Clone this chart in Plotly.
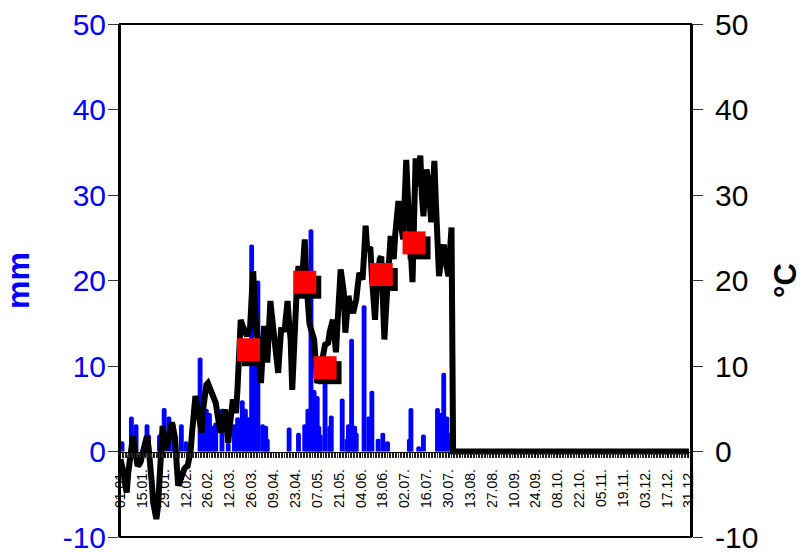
import pandas as pd
import plotly.graph_objects as go

# Daily mean air temperature (°C) from 01.01 onwards; the logger reads 0 after 01.08.
temp_start = "2023-01-01"
temp_c = [
    -0.9, -1.5, -2.5, -3.8, -4.8, -2.5, -1.0, 0.5, 1.8, 0.5,
    -1.0, -1.7, -1.5, -1.2, -0.3, 0.5, 1.2, 1.8, 0.5, -1.0,
    -3.5, -6.0, -7.2, -7.9, -6.5, -4.0, 0.0, 3.0, 1.5, 0.2,
    0.8, 1.5, 2.5, 3.4, 2.5, 1.5, -1.5, -4.0, -3.5, -2.8,
    -2.1, -2.0, -1.8, -1.7, -0.8, 0.2, 2.5, 4.5, 6.5, 5.5,
    4.0, 3.0, 2.2, 5.0, 7.6, 7.8, 8.0, 7.5, 7.2, 6.9,
    6.3, 5.7, 4.5, 3.2, 2.2, 3.5, 4.2, 4.9, 3.0, 1.0,
    3.0, 4.8, 6.1, 5.3, 4.5, 7.5, 10.8, 15.4, 14.8, 14.3,
    13.8, 13.5, 14.0, 14.5, 18.0, 21.1, 17.0, 14.8, 13.0, 11.1,
    8.0, 11.5, 14.7, 12.5, 10.4, 14.0, 17.6, 15.8, 13.9, 11.5,
    10.0, 9.2, 12.0, 14.5, 14.3, 14.0, 15.8, 17.6, 15.0, 13.0,
    7.2, 12.0, 17.0, 19.5, 21.7, 20.3, 19.0, 22.0, 24.8, 20.0,
    15.8, 15.0, 14.3, 13.7, 13.1, 10.5, 8.0, 8.5, 9.0, 10.5,
    12.3, 12.5, 12.6, 12.7, 14.0, 14.7, 15.4, 13.5, 11.6, 15.0,
    18.2, 21.3, 20.0, 18.6, 13.9, 16.0, 18.2, 17.2, 16.5, 16.2,
    17.0, 17.8, 19.5, 20.9, 20.5, 20.1, 23.0, 26.4, 23.6, 23.7,
    23.9, 20.5, 17.5, 15.4, 19.0, 22.1, 22.5, 22.8, 18.0, 13.1,
    16.5, 19.4, 22.0, 25.2, 24.0, 22.5, 25.5, 29.1, 29.3, 27.5,
    26.0, 24.8, 29.5, 34.1, 30.0, 25.6, 22.5, 19.8, 27.0, 34.3,
    31.0, 33.0, 34.6, 30.0, 27.5, 30.5, 33.0, 31.7, 29.0, 26.8,
    30.5, 34.0, 29.0, 24.5, 20.5, 22.0, 23.2, 24.2, 22.5, 21.0,
    20.5, 23.5, 26.2,
] + [0.0] * 152

# Daily precipitation (mm), rainy days only.
rain_dates = [
    "2023-01-02", "2023-01-08", "2023-01-11", "2023-01-18", "2023-01-19",
    "2023-01-26", "2023-01-29", "2023-02-01", "2023-02-04", "2023-02-09",
    "2023-02-12", "2023-02-21", "2023-02-23", "2023-02-25", "2023-02-27",
    "2023-03-01", "2023-03-03", "2023-03-07", "2023-03-11", "2023-03-15",
    "2023-03-17", "2023-03-20", "2023-03-22", "2023-03-24", "2023-03-26",
    "2023-03-28", "2023-03-30", "2023-04-02", "2023-04-04", "2023-04-05",
    "2023-04-19", "2023-04-25", "2023-04-29", "2023-05-01", "2023-05-03",
    "2023-05-05", "2023-05-07", "2023-05-08", "2023-05-09", "2023-05-12",
    "2023-05-15", "2023-05-16", "2023-05-23", "2023-05-26", "2023-05-27",
    "2023-05-29", "2023-05-31", "2023-06-01", "2023-06-06", "2023-06-09",
    "2023-06-11", "2023-06-15", "2023-06-18", "2023-06-21", "2023-07-05",
    "2023-07-06", "2023-07-11", "2023-07-14", "2023-07-23", "2023-07-25",
    "2023-07-27", "2023-07-29", "2023-07-31",
]
rain_mm = [
    1.2, 4.1, 3.2, 3.2, 2.0,
    2.0, 5.1, 4.1, 3.2, 3.2,
    1.2, 11.0, 6.0, 5.0, 4.5,
    3.0, 3.4, 5.0, 1.0, 3.2,
    4.0, 6.0, 5.0, 4.0, 24.2,
    12.0, 20.0, 3.2, 3.0, 1.5,
    2.8, 2.2, 3.2, 5.0, 26.0,
    7.2, 6.5, 3.0, 2.0, 10.0,
    3.0, 4.2, 6.2, 1.5, 3.2,
    13.2, 3.0, 2.2, 17.1, 4.1,
    7.1, 1.5, 2.2, 1.2, 1.5,
    5.1, 0.6, 2.0, 5.1, 4.5,
    9.2, 4.1, 2.2,
]

# Period means of temperature (°C).
mean_dates = ["2023-03-24", "2023-04-29", "2023-05-12", "2023-06-17", "2023-07-08"]
mean_c = [11.9, 19.8, 9.8, 20.7, 24.4]

# Axis settings
y_range = [-10, 50]
y_ticks = [-10, 0, 10, 20, 30, 40, 50]
y_ticktext = ["-10", "0", "10", "20", "30", "40", "50"]
x_range = ["2022-12-31 17:00", "2024-01-01 08:00"]
DAY_MS = 86400000

temp_dates = pd.date_range(temp_start, periods=len(temp_c), freq="D")

# Drop shadow of the mean markers: a few pixels right and down.
plot_w_px, plot_h_px = 571, 513
span_days = (pd.Timestamp(x_range[1]) - pd.Timestamp(x_range[0])) / pd.Timedelta(days=1)
shadow_dx = pd.Timedelta(days=5 * span_days / plot_w_px)
shadow_dy = -5 * (y_range[1] - y_range[0]) / plot_h_px
shadow_dates = [pd.Timestamp(d) + shadow_dx for d in mean_dates]
shadow_c = [v + shadow_dy for v in mean_c]

FONT = "Liberation Sans, Arial, sans-serif"
BLUE = "#0000ff"

fig = go.Figure()
fig.add_trace(go.Bar(
    x=rain_dates, y=rain_mm, yaxis="y",
    marker=dict(color=BLUE, line=dict(width=0)),
    width=3.1 * DAY_MS, name="mm",
))
fig.add_trace(go.Scatter(
    x=temp_dates, y=temp_c, yaxis="y2", mode="lines",
    line=dict(color="black", width=6), name="°C",
))
fig.add_trace(go.Scatter(
    x=shadow_dates, y=shadow_c, yaxis="y2", mode="markers",
    marker=dict(symbol="square", size=23, color="black", line=dict(width=0)),
))
fig.add_trace(go.Scatter(
    x=mean_dates, y=mean_c, yaxis="y2", mode="markers",
    marker=dict(symbol="square", size=23, color="#ff0000", line=dict(width=0)),
))

zero_pos = (0 - y_range[0]) / (y_range[1] - y_range[0])

fig.update_layout(
    width=803, height=552,
    margin=dict(l=120, r=112, t=24, b=15, autoexpand=False),
    paper_bgcolor="white", plot_bgcolor="white",
    showlegend=False,
    barcornerradius=2,
    font=dict(family=FONT, color="black"),
    xaxis=dict(
        type="date", range=x_range, anchor="free", position=zero_pos,
        tick0="2023-01-01", dtick=14 * DAY_MS, tickformat="%d.%m.",
        tickangle=-90, tickfont=dict(size=14, color="black"),
        ticks="outside", ticklen=5, tickwidth=1, tickcolor="black",
        ticklabelstandoff=6, automargin=False,
        minor=dict(dtick=DAY_MS, ticks="outside", ticklen=5, tickwidth=1, tickcolor="#222"),
        showline=True, linecolor="black", linewidth=1,
        showgrid=False, zeroline=False,
    ),
    xaxis2=dict(
        type="date", range=x_range, overlaying="x", anchor="free", position=zero_pos,
        tick0="2023-01-01", dtick=14 * DAY_MS, showticklabels=False, automargin=False,
        ticks="inside", ticklen=5, tickwidth=1, tickcolor="black",
        minor=dict(dtick=DAY_MS, ticks="inside", ticklen=5, tickwidth=1, tickcolor="#222"),
        showgrid=False, zeroline=False, showline=False,
    ),
    yaxis=dict(
        range=y_range, tickvals=y_ticks, ticktext=y_ticktext, side="left",
        tickfont=dict(size=30, color=BLUE), ticklabeloverflow="allow",
        ticks="outside", ticklen=10, tickwidth=1, tickcolor="#333",
        ticklabelstandoff=-4, automargin=False,
        showline=True, linecolor="black", linewidth=2,
        showgrid=False, zeroline=False,
        title=dict(text="<b>mm</b>", font=dict(size=32, color=BLUE), standoff=26),
    ),
    yaxis2=dict(
        range=y_range, tickvals=y_ticks, ticktext=y_ticktext, side="right", overlaying="y",
        tickfont=dict(size=30, color="black"), ticklabeloverflow="allow",
        ticks="outside", ticklen=10, tickwidth=1, tickcolor="#333",
        ticklabelstandoff=6, automargin=False,
        showline=True, linecolor="black", linewidth=2,
        showgrid=False, zeroline=False,
        title=dict(text="<b>°C</b>", font=dict(size=31, color="black"), standoff=24),
    ),
    shapes=[dict(
        type="rect", xref="paper", yref="paper", x0=0, x1=1, y0=0, y1=1,
        line=dict(color="black", width=2), fillcolor="rgba(0,0,0,0)", layer="above",
    )],
)

fig.write_html("out.html")
